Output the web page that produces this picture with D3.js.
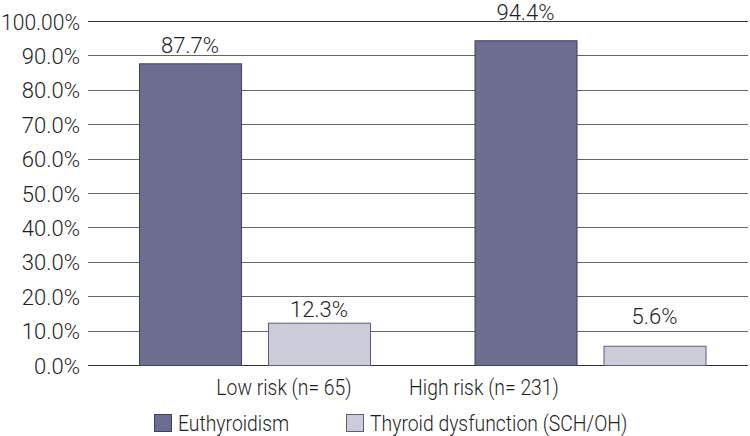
<!DOCTYPE html>
<html>
<head>
<meta charset="utf-8">
<script src="https://cdn.jsdelivr.net/npm/d3@7"></script>
<style>
  body { margin: 0; background: #fff; }
  text { font-family: Roboto, "Liberation Sans", Arial, sans-serif; font-weight: 300; fill: #1e1e1e; font-size: 22px; }
</style>
</head>
<body>
<svg id="chart" width="750" height="436"></svg>
<script>
// data
const groups = ['Low risk (n= 65)', 'High risk (n= 231)'];
const series = ['Euthyroidism', 'Thyroid dysfunction (SCH/OH)'];
const euthyroidism = [87.7, 94.4];
const dysfunction = [12.3, 5.6];
const tickValues = [0, 10, 20, 30, 40, 50, 60, 70, 80, 90, 100];
const tickLabels = ['0.0%', '10.0%', '20.0%', '30.0%', '40.0%', '50.0%', '60.0%', '70.0%', '80.0%', '90.0%', '100.00%'];

const colors = ['#6c6d91', '#cbcbda'];
const strokes = ['#3e3f62', '#5c5d7d'];
// gap between bar top and its label baseline (the source places them unevenly)
const labelGap = [[10, 6], [20, 22]];
const SX_WORD = 0.88; // condensed look of the original face for words
const SX_NUM = 1.0;   // digits in the original are close to normal width
const TICK_ROOM = 79; // space left of the gridlines for tick labels

const svg = d3.select('#chart');

// place a text at x,y squeezed horizontally
function at(x, y, sx) {
  return `translate(${x},${y}) scale(${sx},1)`;
}

const y = d3.scaleLinear().domain([0, 100]).range([365, 21]);
const x0 = d3.scaleBand().domain(groups).range([87, 758]);
const x1 = d3.scaleBand().domain(series).range([52, 283]).paddingInner(0.209);
const xLab = d3.scalePoint().domain(groups).range([284, 484]);

// gridlines
svg.append('g').selectAll('line')
  .data(tickValues)
  .join('line')
  .attr('x1', 88).attr('x2', 748)
  .attr('y1', d => Math.round(y(d)) + 0.5)
  .attr('y2', d => Math.round(y(d)) + 0.5)
  .attr('stroke', d => (d === 0 || d === 100) ? '#333' : '#666')
  .attr('stroke-width', 1.2);

// y labels (the widest one is squeezed so it stays on the page)
svg.append('g').selectAll('text')
  .data(tickValues)
  .join('text')
  .attr('text-anchor', 'end')
  .text((d, i) => tickLabels[i])
  .attr('transform', function (d) {
    const w = this.getComputedTextLength();
    const sx = Math.min(SX_NUM, TICK_ROOM / w);
    return at(80, y(d) + 8.5, sx);
  });

// bars
const rows = groups.map((g, i) => ({ group: g, gi: i, values: [euthyroidism[i], dysfunction[i]] }));

const gGroup = svg.append('g').selectAll('g')
  .data(rows)
  .join('g')
  .attr('transform', d => `translate(${x0(d.group)},0)`);

gGroup.selectAll('rect')
  .data(d => d.values.map((v, si) => ({ v, si, gi: d.gi })))
  .join('rect')
  .attr('x', d => x1(series[d.si]) + 0.5)
  .attr('y', d => y(d.v) + 0.5)
  .attr('width', x1.bandwidth())
  .attr('height', d => y(0) - y(d.v))
  .attr('fill', d => colors[d.si])
  .attr('stroke', d => strokes[d.si])
  .attr('stroke-width', 1);

gGroup.selectAll('text')
  .data(d => d.values.map((v, si) => ({ v, si, gi: d.gi })))
  .join('text')
  .attr('transform', d => at(x1(series[d.si]) + x1.bandwidth() / 2, y(d.v) - labelGap[d.gi][d.si], SX_NUM))
  .attr('text-anchor', 'middle')
  .text(d => d.v.toFixed(1) + '%');

// category labels
svg.append('g').selectAll('text')
  .data(groups)
  .join('text')
  .attr('transform', d => at(xLab(d), 395, SX_WORD))
  .attr('text-anchor', 'middle')
  .text(d => d);

// legend
const legendX = [154, 346];
const lg = svg.append('g').selectAll('g')
  .data(series)
  .join('g')
  .attr('transform', (d, i) => `translate(${legendX[i]},414)`);

lg.append('rect')
  .attr('x', 0.5).attr('y', 0.5)
  .attr('width', 17).attr('height', 17)
  .attr('fill', (d, i) => colors[i])
  .attr('stroke', (d, i) => strokes[i]);

lg.append('text')
  .attr('transform', at(24, 17, SX_WORD))
  .text(d => d);
</script>
</body>
</html>
